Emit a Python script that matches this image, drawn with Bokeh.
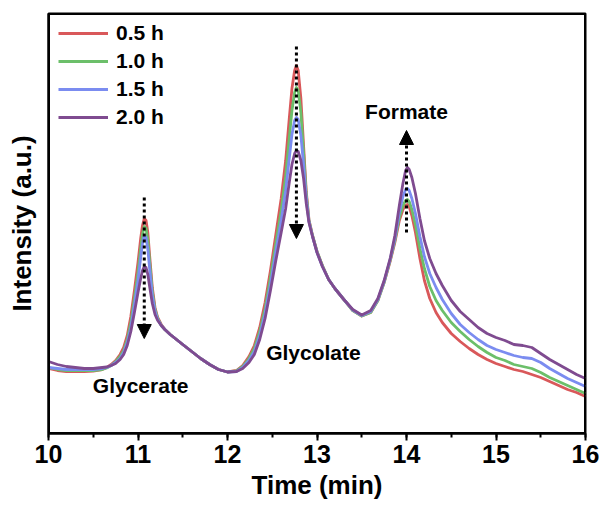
from bokeh.plotting import figure
from bokeh.models import (Range1d, SingleIntervalTicker, FixedTicker, Legend, LegendItem,
                          Arrow, NormalHead, ColumnDataSource, BoxAnnotation)
from bokeh.core.properties import value
from bokeh.embed import file_html
from bokeh.resources import INLINE

# ---------------- data ----------------
time_min = [10.0, 10.1, 10.2, 10.3, 10.4, 10.5, 10.6, 10.65, 10.7, 10.75,
            10.8, 10.84, 10.88, 10.92, 10.96, 11.0, 11.03, 11.05, 11.07, 11.09,
            11.11, 11.13, 11.16, 11.19, 11.22, 11.26, 11.3, 11.36, 11.43, 11.5,
            11.6, 11.7, 11.8, 11.9, 12.0, 12.1, 12.17, 12.24, 12.3, 12.36,
            12.42, 12.48, 12.54, 12.6, 12.65, 12.69, 12.72, 12.75, 12.77, 12.79,
            12.82, 12.85, 12.88, 12.91, 12.95, 13.0, 13.06, 13.13, 13.2, 13.3,
            13.4, 13.5, 13.6, 13.68, 13.75, 13.82, 13.87, 13.92, 13.96, 13.99,
            14.01, 14.03, 14.06, 14.1, 14.15, 14.2, 14.26, 14.33, 14.4, 14.5,
            14.6, 14.7, 14.8, 14.9, 15.0, 15.1, 15.2, 15.3, 15.4, 15.5,
            15.6, 15.7, 15.8, 15.9, 16.0]

int_05h = [65, 63, 62, 62, 62, 62.5, 64, 66, 69, 73,
           79, 86, 98, 117, 143, 171, 195, 208, 215, 213,
           201, 178, 146, 126, 116, 109, 104, 99, 94, 89,
           82, 75, 69, 64, 61.5, 63, 68, 77, 88, 106,
           131, 163, 199, 235, 273, 315, 345, 363, 368, 363,
           335, 288, 242, 214, 198, 182, 168, 154, 145, 134,
           123, 117.5, 121, 133, 151, 173, 191, 213, 224, 228,
           229, 227, 218, 201, 175, 153, 135, 121, 111, 100,
           92, 85, 79, 74, 70, 67, 64, 62, 59, 56,
           52, 48, 44, 41, 37]
int_10h = [66, 64, 63, 63, 63, 63, 64, 65.5, 68, 72,
           77, 83, 94, 111, 135, 161, 185, 199, 207, 205,
           193, 172, 142, 124, 115, 108, 104, 99, 94, 89,
           82, 75, 69, 64, 61.5, 62.5, 67, 75, 85, 102,
           125, 156, 190, 223, 257, 295, 323, 341, 346, 343,
           321, 281, 239, 213, 198, 182, 168, 154, 145, 134,
           123, 117.5, 121, 133, 151, 174, 193, 216, 228, 233,
           234, 232, 224, 209, 185, 165, 147, 133, 123, 111,
           102, 94, 87, 81, 76, 73, 69, 67, 65, 61,
           56, 52, 48, 44, 40]
int_15h = [66, 65, 64, 64, 64, 64, 65, 66, 68, 71,
           75, 81, 91, 106, 129, 153, 176, 190, 198, 196,
           184, 165, 138, 122, 114, 108, 104, 99, 94, 89,
           82, 75, 69, 64, 61.5, 62, 66, 73, 82, 98,
           120, 149, 182, 213, 243, 275, 299, 313, 316, 314,
           298, 269, 235, 212, 197, 181, 167, 154, 145, 134,
           123.5, 118, 122, 134, 152, 175, 195, 221, 237, 244,
           245, 243, 235, 220, 197, 177, 160, 146, 134, 120,
           109, 101, 94, 88, 84, 81, 78, 76, 75, 71,
           65, 60, 55, 51, 47]
int_20h = [72, 69, 67, 66, 65, 65, 66, 66.5, 68, 70,
           74, 79, 88, 102, 121, 141, 155, 163, 167, 166,
           159, 147, 130, 119, 113, 108, 104, 99, 94, 89,
           82, 75, 69, 64, 61.5, 62, 65, 71, 79, 94,
           115, 143, 173, 201, 225, 251, 269, 280, 283, 282,
           273, 255, 230, 211, 197, 181, 167, 154, 145, 134,
           124, 118.5, 123, 135, 153, 176, 198, 228, 250, 263,
           266, 264, 256, 240, 215, 193, 175, 160, 148, 133,
           122, 114, 106, 100, 96, 93, 89, 88, 86, 80,
           74, 69, 64, 59, 55]

series_labels = ["0.5 h", "1.0 h", "1.5 h", "2.0 h"]
series_values = [int_05h, int_10h, int_15h, int_20h]
series_colors = ["#d9585a", "#6cbf6a", "#7b8cf0", "#7f4b90"]

peak_names = ["Glycerate", "Glycolate", "Formate"]
peak_label_x = [11.03, 12.96, 14.0]
peak_label_y = [48, 81, 322]

arrow_x = [11.07, 12.77, 14.0]
arrow_start = [236, 387, 201]
arrow_end = [95, 195, 303]

X_MIN, X_MAX = 10, 16
Y_MIN, Y_MAX = 0, 420

FONT = "Liberation Sans"

# ---------------- figure ----------------
p = figure(width=605, height=506, output_backend="svg", toolbar_location=None,
           x_range=Range1d(X_MIN, X_MAX), y_range=Range1d(Y_MIN, Y_MAX),
           min_border_left=48, min_border_right=20, min_border_top=13, min_border_bottom=73)
p.background_fill_color = "white"
p.border_fill_color = "white"
p.outline_line_color = "black"
p.outline_line_width = 2
p.grid.visible = False

renderers = []
for lab, vals, col in zip(series_labels, series_values, series_colors):
    r = p.line(time_min, vals, line_color=col, line_width=2.8, line_join="round")
    renderers.append(r)

# frame box with explicit range limits
p.add_layout(BoxAnnotation(left=X_MIN, right=X_MAX, bottom=Y_MIN, top=Y_MAX,
                           fill_alpha=0, line_color="black", line_width=3, line_alpha=1,
                           level="overlay"))

legend = Legend(items=[LegendItem(label=l, renderers=[r]) for l, r in zip(series_labels, renderers)],
                location=(10, 302), glyph_width=50, glyph_height=28, label_height=28,
                spacing=0, padding=0, margin=0, label_standoff=8,
                border_line_color=None, background_fill_alpha=0,
                label_text_font=FONT, label_text_font_style="bold",
                label_text_font_size="21px", label_text_color="black")
p.add_layout(legend)

# arrows
for x, y0, y1 in zip(arrow_x, arrow_start, arrow_end):
    p.add_layout(Arrow(x_start=x, y_start=y0, x_end=x, y_end=y1,
                       line_color="black", line_width=3, line_dash="3 3",
                       end=NormalHead(size=14, fill_color="black", line_color="black")))

src = ColumnDataSource(dict(x=peak_label_x, y=peak_label_y, t=peak_names))
p.text(x="x", y="y", text="t", source=src, text_font=value(FONT), text_font_style="bold",
       text_font_size="21px", text_align="center", text_baseline="middle", text_color="black")

# axes
xa = p.below[0]
ya = p.left[0]

xa.ticker = SingleIntervalTicker(interval=1, num_minor_ticks=2)
xa.axis_line_width = 2
xa.major_tick_line_width = 2
xa.minor_tick_line_width = 2
xa.major_tick_in = 0
xa.major_tick_out = 7
xa.minor_tick_in = 0
xa.minor_tick_out = 4
xa.major_label_standoff = 4
xa.major_label_text_font = FONT
xa.major_label_text_font_style = "bold"
xa.major_label_text_font_size = "25px"
xa.major_label_text_color = "black"
xa.axis_label = "Time (min)"
xa.axis_label_text_font = FONT
xa.axis_label_text_font_style = "bold"
xa.axis_label_text_font_size = "26px"
xa.axis_label_text_color = "black"
xa.axis_label_standoff = 4

ya.ticker = FixedTicker(ticks=[])
ya.axis_line_width = 2
ya.major_tick_line_color = None
ya.minor_tick_line_color = None
ya.axis_label = "Intensity (a.u.)"
ya.axis_label_text_font = FONT
ya.axis_label_text_font_style = "bold"
ya.axis_label_text_font_size = "26px"
ya.axis_label_text_color = "black"
ya.axis_label_standoff = 12

open("out.html", "w").write(file_html(p, INLINE))
